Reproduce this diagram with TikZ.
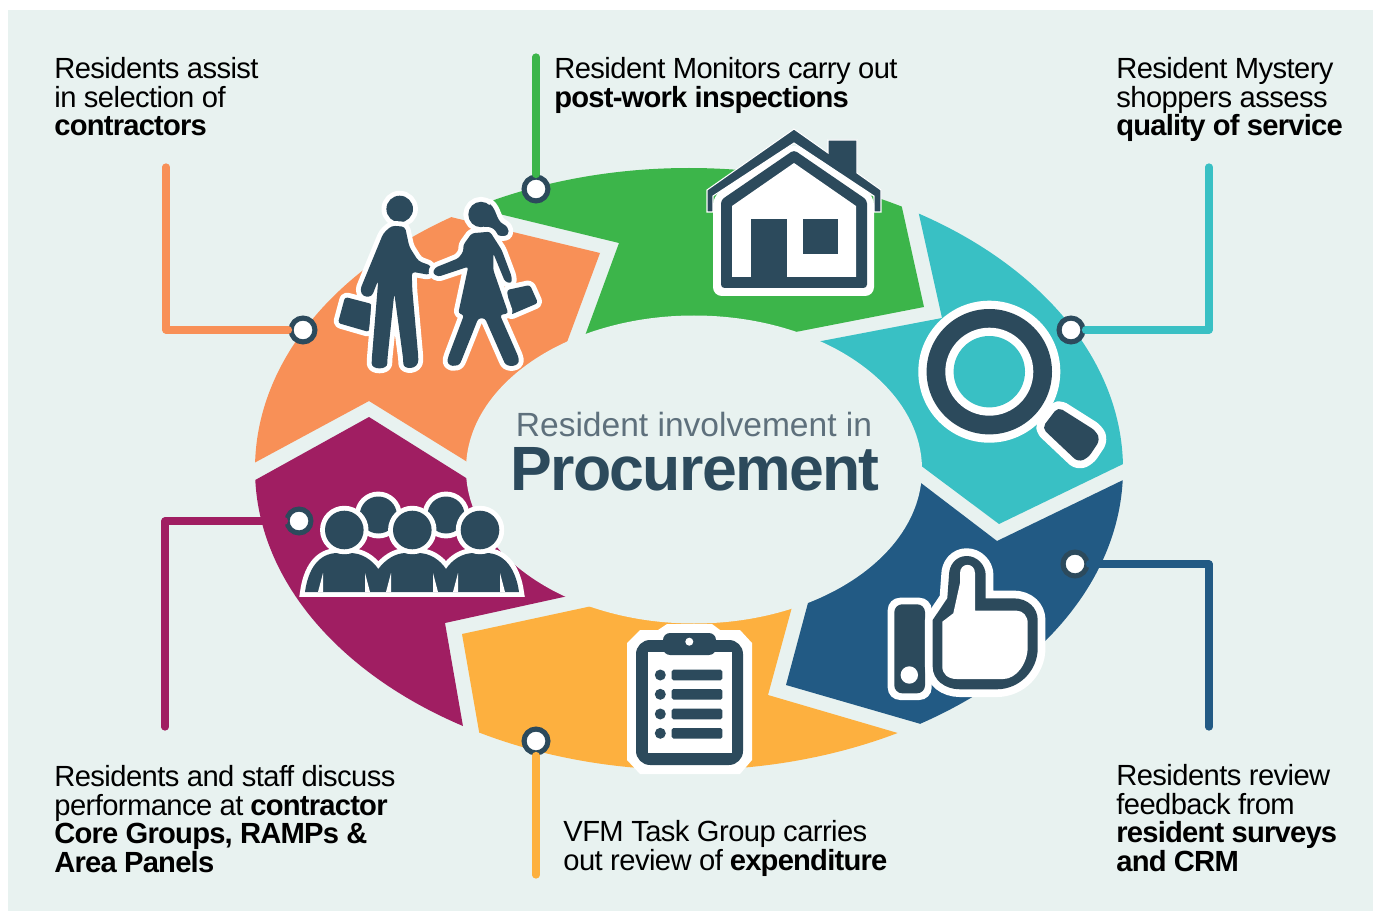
\documentclass[tikz,border=0pt]{standalone}
\usepackage{fontspec}
\setmainfont[LetterSpace=-2, BoldFeatures={LetterSpace=-2.7}]{Liberation Sans}
\newfontfamily\introfont{Liberation Sans}
\definecolor{pagetint}{HTML}{E8F2F0}
\definecolor{icondark}{HTML}{2C4A5C}
\definecolor{segorange}{HTML}{F89057}
\definecolor{seggreen}{HTML}{3CB54A}
\definecolor{segteal}{HTML}{39C0C4}
\definecolor{segblue}{HTML}{225A84}
\definecolor{segyellow}{HTML}{FDB03F}
\definecolor{segmagenta}{HTML}{A01E62}
\definecolor{subgray}{HTML}{5E707C}
\tikzset{
	iconwhite/.style={fill=icondark, preaction={draw=white, line width=5.6pt, line join=round}},
	iconwide/.style={fill=icondark, preaction={draw=white, line width=8.8pt, line join=round}},
	leader/.style={line width=4.1pt, line cap=round, line join=round},
	tipdot/.style={circle, draw=icondark, fill=white, line width=2.9pt, minimum size=13.6pt, inner sep=0pt},
	caption/.style={anchor=north west, inner sep=0pt, align=left, font=\fontsize{16.6pt}{16.3pt}\selectfont},
}
\begin{document}
\begin{tikzpicture}[x=0.02cm, y=-0.02cm]
	\useasboundingbox (0,0) rectangle (1373,912);
	\fill[pagetint] (8,10) rectangle (1373,911);

	\begin{scope}
		\clip (689,469) ellipse [x radius=434, y radius=301];
		\fill[segorange] (230,476) -- (369,401) -- (490,476) -- (550,388) -- (600,253) -- (430,212) -- (230,212) -- cycle;
		\fill[seggreen] (450,202) -- (619,243) -- (575,363) -- (770,337) -- (924,307) -- (897,185) -- (897,150) -- (450,150) -- cycle;
		\fill[segteal] (914,192) -- (942,318) -- (790,347) -- (900,450) -- (999,524) -- (1150,451) -- (1150,192) -- cycle;
		\fill[segblue] (900,467) -- (997,541) -- (1150,467) -- (1150,760) -- (945,731) -- (786,685) -- (816,573) -- cycle;
		\fill[segyellow] (620,600) -- (462,634) -- (484,760) -- (484,790) -- (925,790) -- (925,741) -- (768,695) -- (798,585) -- cycle;
		\fill[segmagenta] (230,494) -- (369,417) -- (490,493) -- (600,589) -- (445,623) -- (468,755) -- (230,755) -- cycle;
	\end{scope}
	\fill[pagetint] (694,469.5) ellipse [x radius=228, y radius=154];

	\node[tipdot] (greendot) at (536,189) {};
	\node[tipdot] (orangedot) at (303,330) {};
	\node[tipdot] (tealdot) at (1071,330) {};
	\node[tipdot] (bluedot) at (1075,564) {};
	\node[tipdot] (yellowdot) at (536,741) {};
	\node[tipdot] (magentadot) at (299,521) {};

	\coordinate (greenend) at (536,57);
	\coordinate (orangeend) at (166,167);
	\coordinate (tealend) at (1209,167);
	\coordinate (blueend) at (1209,727);
	\coordinate (yellowend) at (536,875);
	\coordinate (magentaend) at (165,727);

	\draw[leader, seggreen] (greenend) -- (greendot);
	\draw[leader, segorange] (orangeend) |- (orangedot);
	\draw[leader, segteal] (tealend) |- (tealdot);
	\draw[leader, segblue] (blueend) |- (bluedot);
	\draw[leader, segyellow] (yellowend) -- (yellowdot);
	\draw[leader, segmagenta] (magentaend) |- (magentadot);

	% handshake
	\fill[iconwhite, rounded corners=1.5pt] (345,297) -- (372,304) -- (369,332) -- (338,323) -- cycle;
	\fill[iconwhite] (399.7,209) circle [radius=13.3];
	\fill[iconwhite, rounded corners=2pt] (391.7,225.7) -- (405,226.7) -- (409.3,246.7) -- (418.3,261) -- (431.7,266) -- (430,275) -- (411.7,271.7) -- (412.3,290) -- (418.3,356.7)
		.. controls (418.3,370) and (403.3,370) .. (403.3,360) -- (394.3,293.3) -- (387.3,360)
		.. controls (387.3,370) and (371.7,370) .. (371.7,360) -- (378.3,280) -- (371.7,296.7) -- (363.3,296.7) -- (360,290) -- (383.3,233.3) -- cycle;
	\fill[iconwhite, rounded corners=1.5pt] (507,290) -- (530,285) -- (538,303) -- (510,315) -- cycle;
	\fill[iconwhite] (481,214.5) circle [radius=12.7] (490,204) .. controls (497,210) and (496,220) .. (503,224) .. controls (510,227) and (511,236) .. (503,236) .. controls (495,236) and (490,230) .. (483,226) -- cycle;
	\fill[iconwhite, rounded corners=1.5pt] (471.7,233.3) -- (463.3,245) -- (463.3,251.7) -- (458.3,258.3) -- (435,267.7) -- (432.7,273.3) -- (438.3,276.7) -- (468.3,266.7) -- (458.3,313.3) -- (464,315) -- (448.3,356.7)
		.. controls (446,367) and (458,368) .. (461.7,360) -- (478.3,318.3) -- (485,318.3) -- (503.3,360)
		.. controls (507,368) and (520,367) .. (518.3,356.7) -- (500,315) -- (508.3,313.3) -- (493.3,270) -- (493.3,253.3) -- (505,281.7) -- (511.7,283.3) -- (511.7,276.7) -- (501.7,250) -- (490,231.7) -- cycle;

	% house
	\fill[icondark, draw=white, line width=0.6pt] (707,190) -- (794,129) -- (828,153) -- (828,140) -- (857,140) -- (857,173) -- (881,190) -- (881,212) -- (874,212) -- (874,196) -- (794,143) -- (713,196) -- (713,212) -- (707,212) -- cycle;
	\fill[white, rounded corners=5pt] (713,196) -- (794,143) -- (874,196) -- (874,296) -- (713,296) -- cycle;
	\fill[icondark, rounded corners=2pt] (721,200) -- (794,150) -- (867,200) -- (867,288) -- (721,288) -- cycle;
	\fill[white] (732,206) -- (794,163) -- (856,206) -- (856,277) -- (732,277) -- cycle;
	\fill[icondark] (751,219) rectangle (787,277);
	\fill[icondark] (803,219) rectangle (838,254);

	% magnifier
	\fill[iconwide, rounded corners=3pt] (1058,407) -- (1096,431) -- (1100,440) -- (1088,458) -- (1078,462) -- (1042,428) -- cycle;
	\fill[white] (989.3,371.7) circle [radius=71];
	\fill[icondark] (989.3,371.7) circle [radius=62.7];
	\fill[white] (989.3,371.7) circle [radius=44];
	\fill[segteal] (989.3,371.7) circle [radius=35.7];

	% thumb
	\fill[white, rounded corners=7pt] (887.7,597.7) rectangle (931.7,700);
	\fill[icondark, rounded corners=4.5pt] (894.3,604.3) rectangle (925,693.3);
	\fill[white] (909.3,675) circle [radius=8.7];
	\fill[iconwide] (966.7,556) .. controls (956,556) and (949,565) .. (949,575) -- (947.3,598.3) -- (932.7,620) -- (932.7,666.7)
		.. controls (932.7,680) and (945,689.3) .. (960,689.3) -- (996.7,689.3) .. controls (1020,689.3) and (1037.7,670) .. (1037.7,648.3) -- (1037.7,620)
		.. controls (1037.7,608) and (1028,598.3) .. (1013.3,598.3) -- (985.7,598.3) -- (985.7,575) .. controls (985.7,565) and (977,556) .. (966.7,556) -- cycle;
	\fill[white] (960,573.3) .. controls (960,562) and (975,562) .. (975,573.3) -- (975,610.7) -- (1016.7,610.7) .. controls (1023,610.7) and (1027.7,616) .. (1027.7,623.3) -- (1027.7,646.7)
		.. controls (1027.7,664) and (1016,679) .. (1003.3,679) -- (956.7,679) .. controls (948,679) and (942.3,674) .. (942.3,666.7) -- (942.3,621.7) -- (953.3,613.3) -- (960,583) -- cycle;

	% clipboard
	\fill[white] (627,643) -- (640,630) -- (658,630) -- (667,624) -- (712,624) -- (720,630) -- (740,630) -- (752,643) -- (752,760) -- (740,774) -- (640,774) -- (627,760) -- cycle;
	\fill[icondark, rounded corners=8pt] (636,640) rectangle (743,765);
	\fill[white] (648,652) rectangle (732,753);
	\fill[icondark, rounded corners=4pt] (663,633) rectangle (716,655);
	\fill[white] (689.3,641.7) circle [radius=4];
	\fill[icondark] (660.3,675) circle [radius=5.5];
	\fill[icondark] (660.3,694.3) circle [radius=5.5];
	\fill[icondark] (660.3,714) circle [radius=5.5];
	\fill[icondark] (660.3,733.3) circle [radius=5.5];
	\fill[icondark, rounded corners=1pt] (671.7,669.7) rectangle (722.3,680.3);
	\fill[icondark, rounded corners=1pt] (671.7,689) rectangle (722.3,699.7);
	\fill[icondark, rounded corners=1pt] (671.7,708.7) rectangle (722.3,719.3);
	\fill[icondark, rounded corners=1pt] (671.7,728) rectangle (722.3,738.7);

	% group
	\fill[iconwhite] (378.3,515) circle [radius=18.5];
	\fill[iconwhite] (446,515) circle [radius=18.5];
	\fill[fill=icondark, preaction={draw=white, line width=5.6pt}] (305,592) .. controls (308,570) and (318,553) .. (338,553) -- (350,553) .. controls (362,553) and (372,560) .. (378.3,569)
		.. controls (385,560) and (395,553) .. (406,553) -- (418,553) .. controls (430,553) and (440,560) .. (446,569)
		.. controls (452,560) and (462,553) .. (474,553) -- (486,553) .. controls (505,553) and (516,570) .. (519,592) -- cycle;
	\fill[white] (318,592) -- (323,573) -- (323,592) -- cycle;
	\fill[white] (365,573) -- (370,592) -- (365,592) -- cycle;
	\fill[white] (386,592) -- (391,573) -- (391,592) -- cycle;
	\fill[white] (433,573) -- (438,592) -- (433,592) -- cycle;
	\fill[white] (453,592) -- (458,573) -- (458,592) -- cycle;
	\fill[white] (500,573) -- (505,592) -- (500,592) -- cycle;
	\fill[iconwhite] (344.3,530) circle [radius=19.3];
	\fill[iconwhite] (412.3,530) circle [radius=19.3];
	\fill[iconwhite] (480,530) circle [radius=19.3];

	\node[caption] (selecttext) at (54,57) {Residents assist\\in selection of\\\textbf{contractors}};
	\node[caption] (inspecttext) at (554,57) {Resident Monitors carry out\\\textbf{post-work inspections}};
	\node[caption] (mysterytext) at (1116,57) {Resident Mystery\\shoppers assess\\\textbf{quality of service}};
	\node[caption] (discusstext) at (54,765) {Residents and staff discuss\\performance at \textbf{contractor}\\\textbf{Core Groups, RAMPs \&}\\\textbf{Area Panels}};
	\node[caption] (vfmtext) at (563,820) {VFM Task Group carries\\out review of \textbf{expenditure}};
	\node[caption] (reviewtext) at (1116,764) {Residents review\\feedback from\\\textbf{resident surveys}\\\textbf{and CRM}};

	\node[text=subgray, font=\introfont\fontsize{19.1pt}{20pt}\selectfont, inner sep=0pt, anchor=base] (introtext) at (694,436) {Resident involvement in};
	\node[text=icondark, font=\fontsize{35.6pt}{38pt}\selectfont\bfseries, inner sep=0pt, anchor=base, text height=24pt] (titletext) at (695,490) {Procurement};
\end{tikzpicture}
\end{document}
